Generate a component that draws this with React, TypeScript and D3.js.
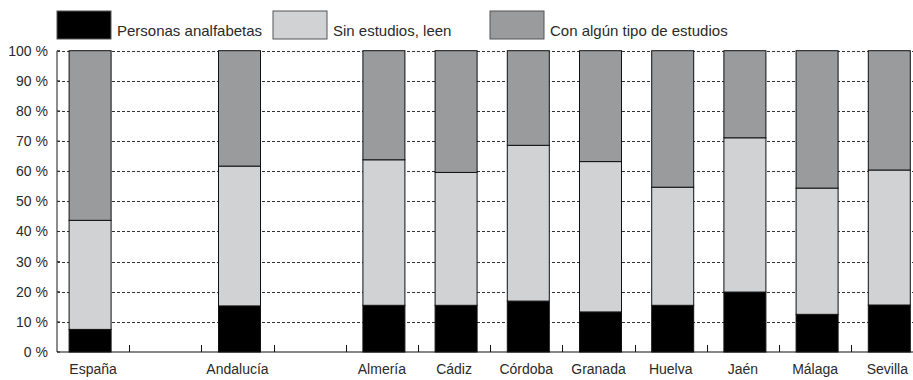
import React from "react";
import * as d3 from "d3";

const categories = ["España", "", "Andalucía", "", "Almería", "Cádiz", "Córdoba", "Granada", "Huelva", "Jaén", "Málaga", "Sevilla"];
const analfabetas = [7.5, null, 15.3, null, 15.5, 15.5, 16.9, 13.3, 15.5, 19.9, 12.5, 15.6];
const sinEstudios = [36.2, null, 46.4, null, 48.3, 44.1, 51.7, 49.9, 39.2, 51.2, 41.9, 44.8];
const conEstudios = [56.3, null, 38.3, null, 36.2, 40.4, 31.4, 36.8, 45.3, 28.9, 45.6, 39.6];
const seriesNames = ["Personas analfabetas", "Sin estudios, leen", "Con algún tipo de estudios"];
const yTicks = [0, 10, 20, 30, 40, 50, 60, 70, 80, 90, 100];

const colors = ["#000000", "#d1d2d4", "#9a9b9d"];

export default function App() {
  const W = 913, H = 380;
  const left = 57, slot = 72.2;
  const y = d3.scaleLinear().domain([0, 100]).range([352, 50.7]);
  const x = d3.scaleBand<number>().domain(d3.range(categories.length)).range([left, left + slot * categories.length]);
  const bw = 42;
  const font = "'Liberation Sans', Arial, sans-serif";

  const rows = categories.map((c, i) => ({ i, a: analfabetas[i], s: sinEstudios[i], c: conEstudios[i] }));
  const valid = rows.filter(r => r.a != null);
  const stack = d3.stack<any>().keys(["a", "s", "c"])(valid);

  const legendX = [57, 273, 490];

  return (
    <svg width={W} height={H} style={{ position: "absolute", left: 0, top: 0, background: "#fff" }}>
      {yTicks.filter(t => t > 0).map(t => (
        <line key={t} x1={left} x2={W} y1={Math.round(y(t)) + 0.5} y2={Math.round(y(t)) + 0.5}
          stroke="#333" strokeWidth={1} strokeDasharray="3,2" />
      ))}
      {yTicks.map(t => (
        <text key={t} x={48} y={y(t) + 5} textAnchor="end" fontFamily={font} fontSize={14} fill="#2a2a2a">{t} %</text>
      ))}
      {stack.map((layer, k) => layer.map((d: any) => {
        const i = d.data.i;
        const bx = (x(i) as number) + (x.bandwidth() - bw) / 2 + (i === 0 ? -3 : 2);
        return (
          <rect key={k + "-" + i} x={bx} y={y(d[1])} width={bw} height={y(d[0]) - y(d[1])}
            fill={colors[k]} stroke="#111" strokeWidth={1} />
        );
      }))}
      <line x1={left} x2={left} y1={y(100)} y2={352} stroke="#666" strokeWidth={1.5} />
      {yTicks.map(t => (
        <line key={"yt" + t} x1={left} x2={left + 3} y1={y(t)} y2={y(t)} stroke="#333" strokeWidth={1} />
      ))}
      <line x1={left} x2={W} y1={352} y2={352} stroke="#111" strokeWidth={1.2} />
      {d3.range(1, categories.length + 1).map(i => {
        const tx = Math.round(left + slot * i) + 0.5;
        return <line key={"xt" + i} x1={tx} x2={tx} y1={352} y2={345} stroke="#111" strokeWidth={1} />;
      })}
      {categories.map((c, i) => (
        <text key={"xl" + i} x={(x(i) as number) + x.bandwidth() / 2} y={374} textAnchor="middle"
          fontFamily={font} fontSize={14} fill="#2a2a2a">{c}</text>
      ))}
      {seriesNames.map((n, k) => (
        <g key={n}>
          <rect x={legendX[k]} y={11} width={54} height={28} fill={colors[k]} stroke="#555" strokeWidth={1} />
          <text x={legendX[k] + 60} y={36} fontFamily={font} fontSize={15} fill="#2a2a2a">{n}</text>
        </g>
      ))}
    </svg>
  );
}
